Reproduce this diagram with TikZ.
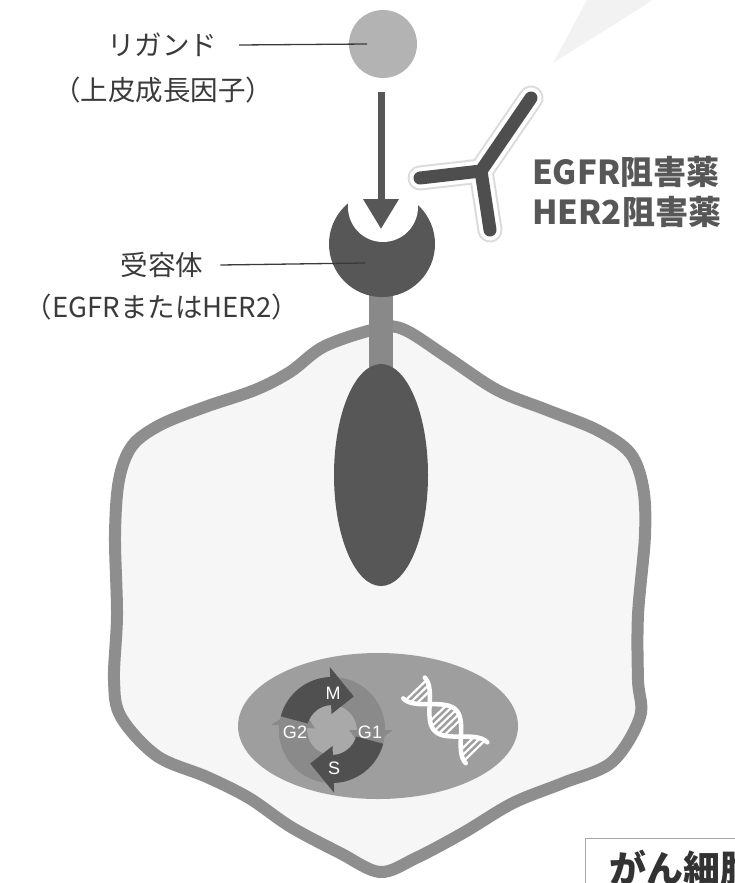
\documentclass[tikz,border=0pt]{standalone}
\usepackage{fontspec}
\setmainfont{Noto Sans CJK JP}
\newfontfamily\phasefont{Liberation Sans}
\usetikzlibrary{arrows.meta,calc}
\definecolor{wallgray}{HTML}{8E8E8E}
\definecolor{cellfill}{HTML}{F6F6F6}
\definecolor{liggray}{HTML}{B3B3B3}
\definecolor{recgray}{HTML}{575757}
\definecolor{stalkgray}{HTML}{898989}
\definecolor{nucgray}{HTML}{9E9E9E}
\definecolor{ringgray}{HTML}{8A8A8A}
\definecolor{coregray}{HTML}{A9A9A9}
\definecolor{phasedark}{HTML}{505050}
\definecolor{textgray}{HTML}{3A3A3A}
\definecolor{wedgegray}{HTML}{F2F2F2}
\begin{document}
\begin{tikzpicture}[x=1pt,y=1pt,
  cellwall/.style={draw=wallgray,line width=12pt,fill=cellfill},
  leader/.style={draw=textgray,line width=1.3pt},
  sigarrow/.style={draw=recgray,line width=7pt,-{Triangle[length=30pt,width=34pt]}},
  sidelabel/.style={font=\fontsize{27.5}{32}\selectfont,text=textgray,inner sep=0pt},
  druglabel/.style={font=\fontsize{33}{38}\selectfont\bfseries,text=textgray!85!white,inner sep=0pt,anchor=west},
  phaselabel/.style={font=\phasefont\fontsize{18}{20}\selectfont,text=white,inner sep=0pt},
  abglow/.style={draw=gray!28,line width=25pt,line cap=round,line join=round},
  abhalo/.style={draw=white,line width=21pt,line cap=round,line join=round},
  abcore/.style={draw=recgray!90!black,line width=13pt,line cap=round,line join=round},
  dnastrand/.style={draw=white,line width=4.5pt,line cap=round},
  dnarung/.style={draw=white,line width=2.2pt}]
\useasboundingbox (0,0) rectangle (735,-883);

% faint pointer wedge at the top
\fill[wedgegray] (553,-63) -- (587,0) -- (653,0) -- cycle;

% cell membrane
\draw[cellwall] plot[smooth cycle,tension=0.55] coordinates {
  (380,-328) (325,-346) (290,-372) (255,-390) (205,-407) (160,-425)
  (132,-446) (119,-480) (115,-535) (117,-615) (114,-680) (121,-717)
  (157,-756) (207,-777) (249,-798) (291,-827) (340,-853) (380,-872)
  (416,-858) (463,-833) (513,-803) (563,-783) (612,-762) (640,-717)
  (638,-680) (638,-615) (645,-535) (643,-487) (630,-453) (597,-430)
  (547,-410) (497,-390) (447,-357) (405,-330)};

% receptor stalk and intracellular domain
\fill[stalkgray] (369,-290) rectangle (393,-372);
\fill[recgray] (381,-475) ellipse[x radius=47,y radius=111];

% nucleus
\fill[nucgray] (378,-726) ellipse[x radius=140,y radius=73];

% cell cycle
\begin{scope}[shift={(332,-730)}]
  \fill[ringgray] (0,0) circle[radius=53];
  \fill[coregray] (0,0) circle[radius=25];
  % G1 and G2 segments
  \fill[ringgray] (80:53) arc[start angle=80,end angle=0,radius=53]
    -- (0:61) -- (-32:39) -- (0:17) -- (0:25)
    arc[start angle=0,end angle=80,radius=25] -- cycle;
  \fill[ringgray] (260:53) arc[start angle=260,end angle=175,radius=53]
    -- (175:61) -- (143:39) -- (175:17) -- (175:25)
    arc[start angle=175,end angle=260,radius=25] -- cycle;
  % M and S arrows
  \fill[phasedark] (165:53) arc[start angle=165,end angle=92,radius=53]
    -- (92:63) -- (57:40) -- (92:16) -- (92:25)
    arc[start angle=92,end angle=165,radius=25] -- cycle;
  \fill[phasedark] (-15:53) arc[start angle=-15,end angle=-88,radius=53]
    -- (-88:63) -- (-123:40) -- (-88:16) -- (-88:25)
    arc[start angle=-88,end angle=-15,radius=25] -- cycle;
  \node[phaselabel] (phM) at (1,37) {M};
  \node[phaselabel] (phG2) at (-37,-2) {G2};
  \node[phaselabel] (phG1) at (38,-2) {G1};
  \node[phaselabel] (phS) at (2,-38) {S};
\end{scope}

% DNA double helix
\begin{scope}[shift={(414,-688)},rotate=-46]
  \foreach \t in {3,8,13,35,40,45,50,55,77,82,87}
    \draw[dnarung] (\t,{14*cos(4*\t)}) -- (\t,{-14*cos(4*\t)});
  \draw[dnastrand] plot[domain=0:90,samples=50,smooth] (\x,{15*cos(4*\x)});
  \draw[dnastrand] plot[domain=0:90,samples=50,smooth] (\x,{-15*cos(4*\x)});
\end{scope}

% receptor head with ligand-binding notch
\node[circle,fill=recgray,minimum size=106pt,inner sep=0pt] (rec) at (382,-244) {};
\fill[white] (383,-207) circle[radius=35];

% ligand and binding arrow
\node[circle,fill=liggray,minimum size=68pt,inner sep=0pt] (lig) at (383,-44) {};
\coordinate (bindtip) at (381,-229);
\draw[sigarrow] ([xshift=-2pt,yshift=-14pt]lig.south) -- (bindtip);

% antibody drug
\coordinate (abj) at (481,-171);
\coordinate (abl) at (420,-178);
\coordinate (abu) at (531,-98);
\coordinate (abd) at (490,-230);
\draw[abglow] (abl) -- (abj) -- (abu) (abj) -- (abd);
\draw[abhalo] (abl) -- (abj) -- (abu) (abj) -- (abd);
\draw[abcore] (abl) -- (abj) -- (abu) (abj) -- (abd);

% labels
\node[sidelabel] (ligname) at (162,-45) {リガンド};
\node[sidelabel] (ligsub) at (163,-90) {（上皮成長因子）};
\node[sidelabel] (recname) at (162,-265) {受容体};
\node[sidelabel] (recsub) at (162,-307) {（EGFRまたはHER2）};
\draw[leader] ([xshift=22pt]ligname.east) -- ([xshift=-16pt]lig.center);
\draw[leader] ([xshift=17pt]recname.east) -- ([xshift=-17pt,yshift=-19pt]rec.center);

\node[druglabel] (egfr) at (532,-172) {EGFR阻害薬};
\node[druglabel] (her2) at (532,-212) {HER2阻害薬};

% caption box at the lower right
\draw[draw=gray!70,line width=1pt] (585,-838) rectangle (760,-910);
\node[font=\fontsize{37}{42}\selectfont\bfseries,text=black!80,inner sep=0pt,anchor=west] (cap) at (609,-868) {がん細胞};
\end{tikzpicture}
\end{document}
